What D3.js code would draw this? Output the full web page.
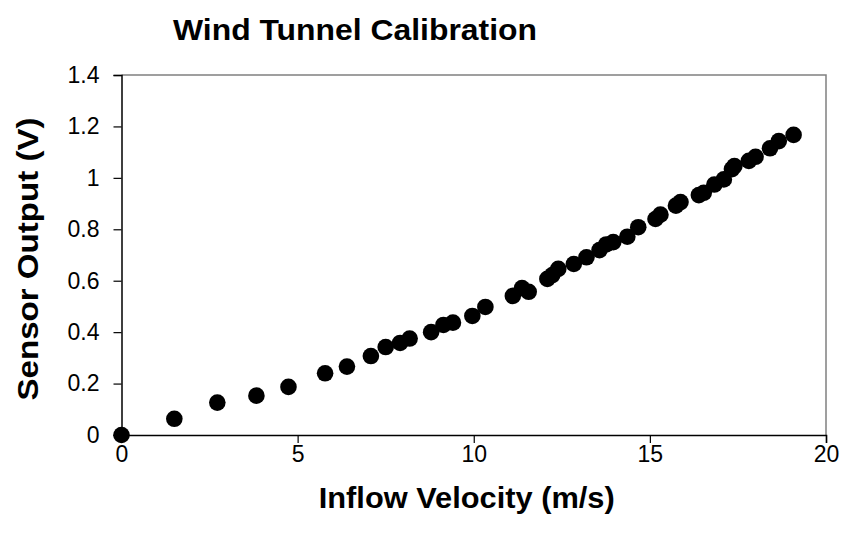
<!DOCTYPE html>
<html>
<head>
<meta charset="utf-8">
<script src="https://cdn.jsdelivr.net/npm/d3@7"></script>
<style>
  body { margin: 0; background: #fff; }
  text { font-family: "Liberation Sans", Arial, sans-serif; }
</style>
</head>
<body>
<div id="chart"></div>
<script>
// calibration readings
const velocity = [0, 1.5, 2.72, 3.83, 4.74, 5.78, 6.4, 7.08, 7.5, 7.91, 8.18, 8.79, 9.14, 9.41,
  9.96, 10.33, 11.11, 11.37, 11.56, 12.09, 12.23, 12.4, 12.84, 13.2, 13.57, 13.76, 13.96,
  14.36, 14.67, 15.16, 15.3, 15.74, 15.87, 16.39, 16.53, 16.83, 17.1, 17.33, 17.4, 17.81,
  18.0, 18.41, 18.66, 19.08];
const output = [0, 0.063, 0.126, 0.153, 0.187, 0.24, 0.266, 0.307, 0.342, 0.358, 0.375, 0.4,
  0.428, 0.437, 0.463, 0.498, 0.541, 0.571, 0.557, 0.607, 0.622, 0.646, 0.665, 0.691, 0.719,
  0.741, 0.75, 0.771, 0.808, 0.84, 0.857, 0.892, 0.906, 0.933, 0.942, 0.974, 0.994, 1.034,
  1.046, 1.066, 1.082, 1.115, 1.143, 1.167];
const xTicks = [0, 5, 10, 15, 20];
const yTicks = [0, 0.2, 0.4, 0.6, 0.8, 1, 1.2, 1.4];

const width = 843, height = 539;
const margin = {top: 75, right: 17, bottom: 104, left: 121.5};

const svg = d3.select('#chart').append('svg')
    .attr('width', width)
    .attr('height', height);

svg.append('rect').attr('width', width).attr('height', height).attr('fill', '#fff');

const x = d3.scaleLinear().domain([0, 20]).range([margin.left, width - margin.right]);
const y = d3.scaleLinear().domain([0, 1.4]).range([height - margin.bottom, margin.top]);

// top / right frame
svg.append('path')
    .attr('d', `M${x(0)},${y(1.4)}H${x(20)}V${y(0)}`)
    .attr('fill', 'none')
    .attr('stroke', '#808080')
    .attr('stroke-width', 1.5);

const xAxis = svg.append('g')
    .attr('transform', `translate(0,${y(0)})`)
    .call(d3.axisBottom(x).tickValues(xTicks).tickSize(8).tickPadding(3).tickFormat(d3.format('d')));

const yAxis = svg.append('g')
    .attr('transform', `translate(${x(0)},0)`)
    .call(d3.axisLeft(y).tickValues(yTicks).tickSize(8).tickPadding(14).tickFormat(d => String(+d.toFixed(1))));

[xAxis, yAxis].forEach(g => {
    g.select('.domain').attr('stroke', '#000').attr('stroke-width', 1.5);
    g.selectAll('.tick line').attr('stroke', '#000').attr('stroke-width', 1.2);
    g.selectAll('.tick text')
        .attr('fill', '#000')
        .style('font-size', '23px')
        .style('font-family', '"Liberation Sans", Arial, sans-serif');
});

// markers
svg.append('g').selectAll('circle')
    .data(velocity.map((v, i) => [v, output[i]]))
    .join('circle')
    .attr('cx', d => x(d[0]))
    .attr('cy', d => y(d[1]))
    .attr('r', 8.3)
    .attr('fill', '#000');

// titles
svg.append('text')
    .attr('x', 355).attr('y', 40)
    .attr('text-anchor', 'middle')
    .attr('font-weight', 'bold')
    .attr('font-size', 30)
    .attr('textLength', 364)
    .attr('lengthAdjust', 'spacingAndGlyphs')
    .text('Wind Tunnel Calibration');

svg.append('text')
    .attr('x', (x(0) + x(20)) / 2 - 7).attr('y', 508)
    .attr('text-anchor', 'middle')
    .attr('font-weight', 'bold')
    .attr('font-size', 29)
    .attr('textLength', 296)
    .attr('lengthAdjust', 'spacingAndGlyphs')
    .text('Inflow Velocity (m/s)');

svg.append('text')
    .attr('transform', `translate(38,${(y(0) + y(1.4)) / 2 + 4}) rotate(-90)`)
    .attr('text-anchor', 'middle')
    .attr('font-weight', 'bold')
    .attr('font-size', 30)
    .attr('textLength', 283)
    .attr('lengthAdjust', 'spacingAndGlyphs')
    .text('Sensor Output (V)');
</script>
</body>
</html>
